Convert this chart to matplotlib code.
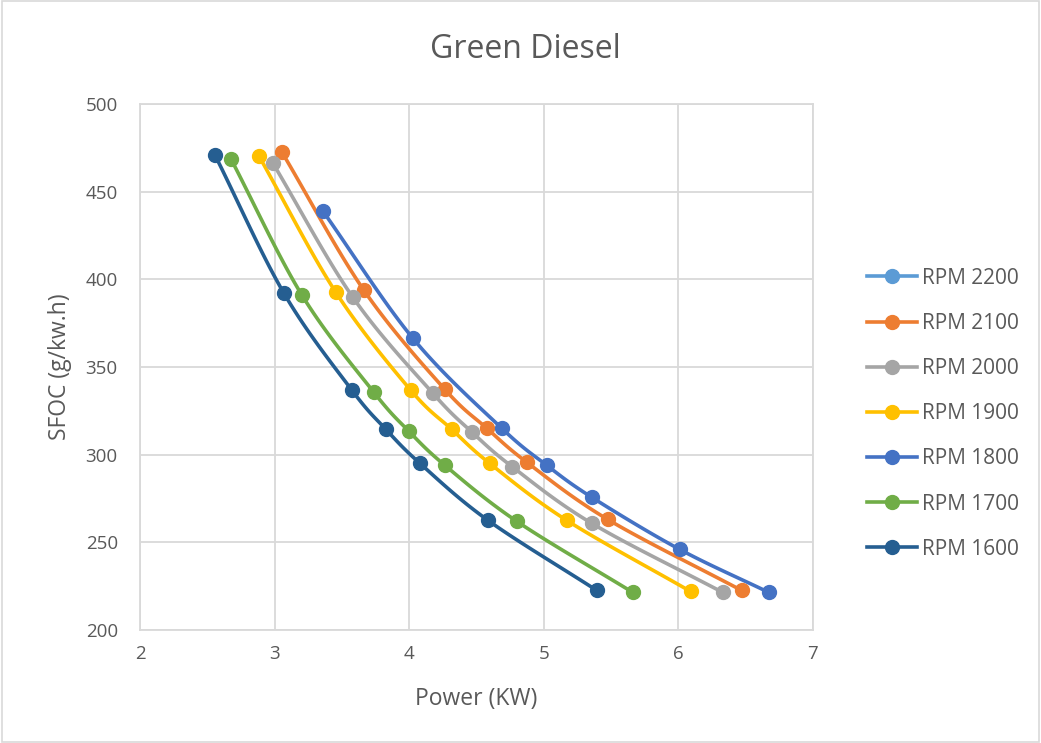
import matplotlib.pyplot as plt
import numpy as np

plt.rcParams["font.family"] = ["Open Sans", "DejaVu Sans"]

TEXT = "#595959"
GRID = "#d9d9d9"

labels = ["RPM 2200", "RPM 2100", "RPM 2000", "RPM 1900", "RPM 1800", "RPM 1700", "RPM 1600"]
colors = ["#5b9bd5", "#ed7d31", "#a5a5a5", "#ffc000", "#4472c4", "#70ad47", "#255e91"]

# power (kW) and SFOC (g/kW.h) for each engine speed
power_2200 = []
sfoc_2200 = []
power_2100 = [3.054, 3.663, 4.264, 4.576, 4.873, 5.474, 6.469]
sfoc_2100 = [472.6, 393.8, 337.3, 315.1, 295.7, 263.1, 222.6]
power_2000 = [2.987, 3.581, 4.176, 4.467, 4.764, 5.355, 6.328]
sfoc_2000 = [466.3, 389.8, 335.0, 312.8, 293.2, 260.9, 221.5]
power_1900 = [2.884, 3.454, 4.011, 4.315, 4.597, 5.169, 6.090]
sfoc_1900 = [470.3, 392.7, 336.8, 314.5, 295.1, 262.6, 222.0]
power_1800 = [3.359, 4.027, 4.687, 5.021, 5.356, 6.009, 6.670]
sfoc_1800 = [438.9, 366.4, 315.1, 294.0, 275.7, 246.0, 221.5]
power_1700 = [2.676, 3.203, 3.737, 3.997, 4.264, 4.799, 5.660]
sfoc_1700 = [468.6, 391.0, 335.6, 313.4, 294.0, 262.0, 221.5]
power_1600 = [2.557, 3.069, 3.574, 3.826, 4.079, 4.584, 5.393]
sfoc_1600 = [470.9, 392.1, 336.8, 314.5, 295.1, 262.6, 222.6]

series = [
    (power_2200, sfoc_2200),
    (power_2100, sfoc_2100),
    (power_2000, sfoc_2000),
    (power_1900, sfoc_1900),
    (power_1800, sfoc_1800),
    (power_1700, sfoc_1700),
    (power_1600, sfoc_1600),
]


def smooth(x, y, n=20):
    # Catmull-Rom curve through the points, like a spreadsheet "smoothed line"
    x = np.asarray(x, float)
    y = np.asarray(y, float)
    if len(x) < 3:
        return x, y
    px = np.concatenate([[2 * x[0] - x[1]], x, [2 * x[-1] - x[-2]]])
    py = np.concatenate([[2 * y[0] - y[1]], y, [2 * y[-1] - y[-2]]])
    t = np.linspace(0, 1, n)
    xs, ys = [], []
    for i in range(1, len(px) - 2):
        for p, out in ((px, xs), (py, ys)):
            p0, p1, p2, p3 = p[i - 1], p[i], p[i + 1], p[i + 2]
            out.append(0.5 * (2 * p1 + (-p0 + p2) * t
                              + (2 * p0 - 5 * p1 + 4 * p2 - p3) * t ** 2
                              + (-p0 + 3 * p1 - 3 * p2 + p3) * t ** 3))
    return np.concatenate(xs), np.concatenate(ys)


fig = plt.figure(figsize=(10.41, 7.43), dpi=100)
ax = fig.add_axes([140 / 1041, 1 - 630 / 743, 673 / 1041, 526 / 743])

for (px, py), lab, col in zip(series, labels, colors):
    sx, sy = smooth(px, py)
    ax.plot(sx, sy, color=col, lw=2.6, solid_capstyle="round", zorder=2)
    ax.plot(px, py, "o", color=col, ms=10, zorder=3)
    # legend proxy
    ax.plot([], [], "-o", color=col, lw=2.6, ms=10, label=lab)

ax.set_xlim(2, 7)
ax.set_ylim(200, 500)
ax.set_xticks(range(2, 8))
ax.set_yticks(range(200, 501, 50))
ax.grid(True, color=GRID, lw=1.3)
ax.set_axisbelow(True)
for s in ax.spines.values():
    s.set_color(GRID)
    s.set_linewidth(1.3)
ax.tick_params(length=0, labelsize=13.5, colors=TEXT)
ax.tick_params(axis="x", pad=11)
ax.tick_params(axis="y", pad=16)

ax.set_xlabel("Power (KW)", fontsize=16.5, color=TEXT)
ax.set_ylabel("SFOC (g/kw.h)", fontsize=16.5, color=TEXT, va="center")
ax.xaxis.set_label_coords(0.5, -0.108)
ax.yaxis.set_label_coords(-80 / 673, 0.5)
fig.text(525 / 1041, 1 - 50 / 743, "Green Diesel",
         fontsize=23, color=TEXT, ha="center", va="center")

handles, labs = ax.get_legend_handles_labels()
fig.legend(handles, labs, loc="upper left", bbox_to_anchor=(848 / 1041, 1 - 249 / 743),
           frameon=False, fontsize=15, labelcolor=TEXT, handlelength=2.4,
           labelspacing=1.16, handletextpad=0.25)

# outer chart border
fig.patches.append(plt.Rectangle((0.002, 0.002), 0.996, 0.996, transform=fig.transFigure,
                                 fill=False, edgecolor=GRID, lw=1.2))

fig.savefig("out.png", dpi=100, facecolor="white")
